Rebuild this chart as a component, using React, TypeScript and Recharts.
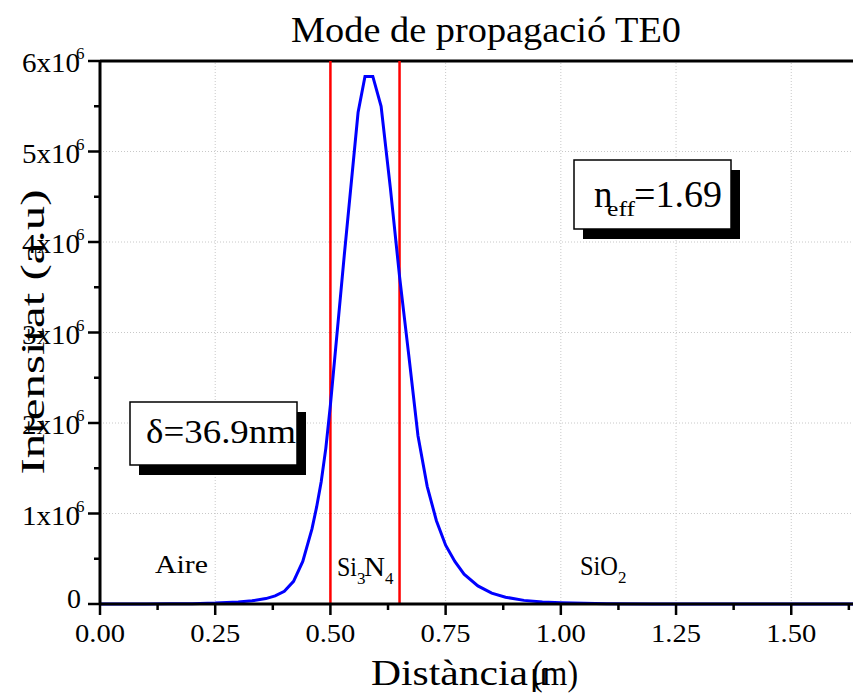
import React from "react";
import { LineChart, Line, XAxis, YAxis, ReferenceLine } from "recharts";

// position across the guide (µm)
const distance = [
  0, 0.05, 0.1, 0.15, 0.2, 0.25, 0.3, 0.33, 0.36, 0.38, 0.4, 0.42, 0.44, 0.46, 0.47, 0.48, 0.49, 0.5,
  0.53, 0.56, 0.575, 0.592, 0.61, 0.63, 0.65, 0.67, 0.69, 0.71, 0.73, 0.75, 0.77, 0.79, 0.82, 0.85,
  0.88, 0.92, 0.96, 1.0, 1.05, 1.1, 1.2, 1.3, 1.4, 1.5, 1.6, 1.634,
];
// intensity in units of 10^6 (a.u)
const intensity = [
  0, 0, 0.001, 0.002, 0.004, 0.01, 0.022, 0.035, 0.06, 0.09, 0.14, 0.25, 0.47, 0.83, 1.07, 1.35, 1.72, 2.2,
  3.85, 5.43, 5.83, 5.83, 5.5, 4.6, 3.62, 2.75, 1.86, 1.3, 0.92, 0.65, 0.47, 0.33, 0.2, 0.12,
  0.075, 0.04, 0.022, 0.014, 0.007, 0.003, 0.001, 0, 0, 0, 0, 0,
];

// interfaces between layers
const interfaces = [0.5, 0.65];

const xTicks = [0, 0.125, 0.25, 0.375, 0.5, 0.625, 0.75, 0.875, 1.0, 1.125, 1.25, 1.375, 1.5, 1.625];
const xGrid = [0.25, 0.5, 0.75, 1.0, 1.25, 1.5];
const yTicks = [0, 0.5, 1, 1.5, 2, 2.5, 3, 3.5, 4, 4.5, 5, 5.5, 6];
const yGrid = [1, 2, 3, 4, 5];

const data = distance.map((d, i) => ({ d, v: intensity[i] }));

const FONT = '"Liberation Serif", "Times New Roman", serif';

const XTick = (props: any) => {
  const { x, y, payload } = props;
  const v = payload.value as number;
  const major = Math.abs(v / 0.25 - Math.round(v / 0.25)) < 1e-6;
  return (
    <g>
      <line x1={x} x2={x} y1={y} y2={y + (major ? 11 : 6)} stroke="#000" strokeWidth={2.5} />
      {major && (
        <text x={x} y={y + 38} textAnchor="middle" fontSize={26} fontFamily={FONT} fill="#000"
          textLength={50} lengthAdjust="spacingAndGlyphs">
          {v.toFixed(2)}
        </text>
      )}
    </g>
  );
};

const YTick = (props: any) => {
  const { x, y, payload } = props;
  const v = payload.value as number;
  const major = Math.abs(v - Math.round(v)) < 1e-6;
  return (
    <g>
      <line x1={x} x2={x - (major ? 12 : 6)} y1={y} y2={y} stroke="#000" strokeWidth={2.5} />
      {major && v === 0 && (
        <text x={81} y={y + 4} textAnchor="end" fontSize={28} fontFamily={FONT} fill="#000">0</text>
      )}
      {major && v !== 0 && (
        <g>
          <text x={80} y={y + 11} textAnchor="end" fontSize={28} fontFamily={FONT} fill="#000"
            textLength={58} lengthAdjust="spacingAndGlyphs">
            {`${v}x10`}
          </text>
          <text x={76} y={y - 2} fontSize={17} fontFamily={FONT} fill="#000">6</text>
        </g>
      )}
    </g>
  );
};

export default function App() {
  return (
    <div style={{ position: "absolute", left: 0, top: 0, width: 853, height: 696, background: "#fff" }}>
      <LineChart width={853} height={696} data={data} margin={{ top: 61, right: 0, bottom: 0, left: 0 }}>
        <XAxis
          dataKey="d"
          type="number"
          domain={[0, 1.634]}
          ticks={xTicks}
          interval={0}
          height={92}
          tickSize={0}
          tickMargin={0}
          tick={<XTick />}
          axisLine={{ stroke: "#000", strokeWidth: 3 }}
          allowDataOverflow
        />
        <YAxis
          type="number"
          domain={[0, 6]}
          ticks={yTicks}
          interval={0}
          width={100}
          tickSize={0}
          tickMargin={0}
          tick={<YTick />}
          axisLine={{ stroke: "#000", strokeWidth: 3 }}
        />
        {xGrid.map((g) => (
          <ReferenceLine key={`gx${g}`} x={g} stroke="#c8c8c8" strokeWidth={1} strokeDasharray="1 2" />
        ))}
        {yGrid.map((g) => (
          <ReferenceLine key={`gy${g}`} y={g} stroke="#c8c8c8" strokeWidth={1} strokeDasharray="1 2" />
        ))}
        <ReferenceLine y={6} stroke="#000" strokeWidth={3} />
        {interfaces.map((p) => (
          <ReferenceLine key={`i${p}`} x={p} stroke="#ff0000" strokeWidth={2.5} />
        ))}
        <Line
          type="linear"
          dataKey="v"
          stroke="#0000ff"
          strokeWidth={3}
          dot={false}
          isAnimationActive={false}
        />
      </LineChart>
      <svg
        width={853}
        height={696}
        style={{ position: "absolute", left: 0, top: 0, pointerEvents: "none" }}
        fontFamily={FONT}
      >
        <text x={486} y={42} textAnchor="middle" fontSize={36} fill="#000" textLength={390} lengthAdjust="spacingAndGlyphs">
          Mode de propagació TE0
        </text>
        <text x={371} y={685} fontSize={36} fill="#000" textLength={157} lengthAdjust="spacingAndGlyphs">
          Distància
        </text>
        <text x={530} y={685} fontSize={34} fill="#000">μ</text>
        <text x={532} y={685} fontSize={36} fill="#000" textLength={46} lengthAdjust="spacingAndGlyphs">(m)</text>
        <text
          x={44}
          y={332}
          transform="rotate(-90 44 332)"
          textAnchor="middle"
          fontSize={34}
          fill="#000"
          textLength={285}
          lengthAdjust="spacingAndGlyphs"
        >
          Intensitat (a.u)
        </text>

        <rect x={583} y={170} width={157} height={69} fill="#000" />
        <rect x={574} y={160} width={157} height={69} fill="#fff" stroke="#000" strokeWidth={1.5} />
        <text x={594} y={207} fontSize={37} fill="#000">n</text>
        <text x={607} y={216} fontSize={22} fill="#000" textLength={28} lengthAdjust="spacingAndGlyphs">eff</text>
        <text x={634} y={207} fontSize={37} fill="#000" textLength={88} lengthAdjust="spacingAndGlyphs">=1.69</text>

        <rect x={139} y={412} width={167} height={63} fill="#000" />
        <rect x={130} y={402} width={167} height={63} fill="#fff" stroke="#000" strokeWidth={1.5} />
        <text x={146} y={443} fontSize={33} fill="#000" textLength={150} lengthAdjust="spacingAndGlyphs">δ=36.9nm</text>

        <text x={155} y={573} fontSize={26} fill="#000" textLength={53} lengthAdjust="spacingAndGlyphs">Aire</text>
        <text x={337} y={576} fontSize={27} fill="#000" textLength={20} lengthAdjust="spacingAndGlyphs">Si</text>
        <text x={357} y={584} fontSize={17} fill="#000">3</text>
        <text x={364} y={576} fontSize={27} fill="#000" textLength={21} lengthAdjust="spacingAndGlyphs">N</text>
        <text x={385} y={584} fontSize={17} fill="#000">4</text>
        <text x={580} y={575} fontSize={27} fill="#000" textLength={38} lengthAdjust="spacingAndGlyphs">SiO</text>
        <text x={618} y={583} fontSize={17} fill="#000">2</text>
      </svg>
    </div>
  );
}
